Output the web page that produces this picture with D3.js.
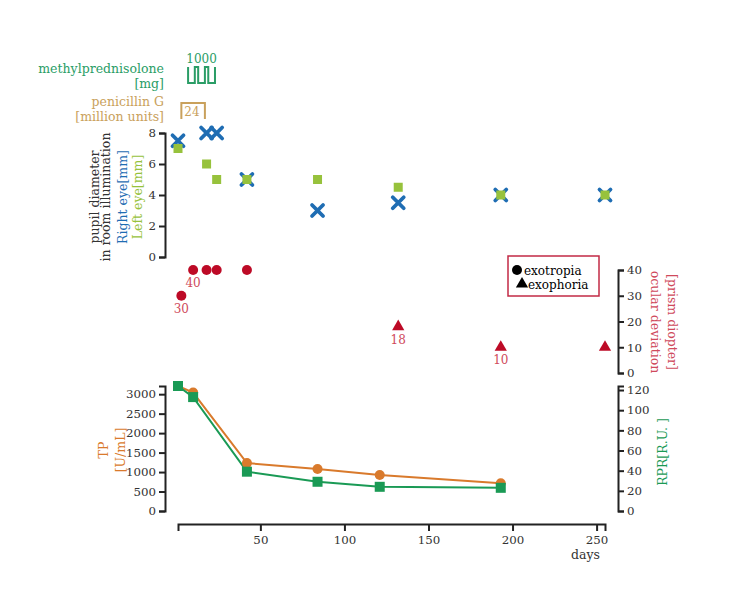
<!DOCTYPE html>
<html>
<head>
<meta charset="utf-8">
<script src="https://cdn.jsdelivr.net/npm/d3@7"></script>
<style>
  body { margin: 0; background: #fff; }
  svg text { font-family: "DejaVu Serif", serif; }
  .axis text { font-size: 11.8px; fill: #333; font-family: "DejaVu Serif", serif; }
  .axis path, .axis line { stroke: #222; stroke-width: 2px; }
</style>
</head>
<body>
<script>
// days axis
const dayTicks = [50, 100, 150, 200, 250];

// pupil diameter [mm]
const pupilDays = [1, 18, 24, 42, 84, 132, 193, 255];
const rightEye = [7.5, 8, 8, 5, 3, 3.5, 4, 4];
const leftEye = [7, 6, 5, 5, 5, 4.5, 4, 4];

// ocular deviation [prism diopter]
const tropiaDays = [3, 10, 18, 24, 42];
const tropiaVals = [30, 40, 40, 40, 40];
const tropiaLabels = ["30", "40", "", "", ""];
const phoriaDays = [132, 193, 255];
const phoriaVals = [18, 10, 10];
const phoriaLabels = ["18", "10", ""];

// serology
const labDays = [1, 10, 42, 84, 121, 193];
const tp = [3210, 3040, 1230, 1080, 925, 710];
const rpr = [124, 113, 39, 29, 24, 23];

// drugs
const mpDays = [7, 7, 11, 11, 13, 13, 17, 17, 19, 19, 23, 23];
const mpDose = [1000, 0, 0, 1000, 1000, 0, 0, 1000, 1000, 0, 0, 1000];
const pcDays = [3, 3, 17, 17];
const pcDose = [0, 24, 24, 0];

const W = 750, H = 594;
const blue = "#1f6db3", lime = "#97c23c", red = "#bd0a26", redTxt = "#cf4a5c";
const orange = "#d97a2c", green = "#1a9a55", mpGreen = "#2a9d66", gold = "#c9a15c";

let svg = d3.select("body").append("svg").attr("width", W).attr("height", H);

let x = d3.scaleLinear().domain([1, 255]).range([178, 605]);

// ---- x axis
svg.append("g").attr("class", "axis")
  .attr("transform", "translate(0,524)")
  .call(d3.axisBottom(x).tickValues(dayTicks).tickSize(7).tickSizeOuter(7).tickPadding(5));
svg.append("text").attr("x", 600).attr("y", 559).attr("text-anchor", "end")
  .style("font-size", "12.5px").style("fill", "#333").text("days");

// ---- drugs
let mpY = d3.scaleLinear().domain([0, 1000]).range([83, 67]);
let pcY = d3.scaleLinear().domain([0, 24]).range([119, 103]);
let drugLine = (yy) => d3.line().x(d => x(d[0])).y(d => yy(d[1]));

svg.append("path").datum(mpDays.map((d, i) => [d, mpDose[i]]))
  .attr("d", drugLine(mpY)).attr("fill", "none").attr("stroke", mpGreen).attr("stroke-width", 2);
svg.append("text").attr("x", x(15)).attr("y", 63).attr("text-anchor", "middle")
  .style("font-size", "12px").style("fill", mpGreen).text(d3.max(mpDose));

svg.append("path").datum(pcDays.map((d, i) => [d, pcDose[i]]))
  .attr("d", drugLine(pcY)).attr("fill", "none").attr("stroke", gold).attr("stroke-width", 2);
svg.append("text").attr("x", x(3) + 3).attr("y", 116)
  .style("font-size", "12px").style("fill", gold).text(d3.max(pcDose));

let drugLabels = [
  ["methylprednisolone", 73, mpGreen], ["[mg]", 88, mpGreen],
  ["penicillin G", 106, gold], ["[million units]", 121, gold]
];
svg.selectAll(".druglab").data(drugLabels).enter().append("text")
  .attr("x", 164).attr("y", d => d[1]).attr("text-anchor", "end")
  .style("font-size", "12.5px").style("fill", d => d[2]).text(d => d[0]);

// ---- pupil panel
let yP = d3.scaleLinear().domain([0, 8]).range([257, 133]);
svg.append("g").attr("class", "axis").attr("transform", "translate(165,0)")
  .call(d3.axisLeft(yP).ticks(4).tickSize(6).tickSizeOuter(6));

let pupilLab = svg.append("text").attr("transform", "translate(0,197) rotate(-90)")
  .attr("text-anchor", "middle").style("font-size", "12.5px");
[["pupil diameter", "#333", 99], ["in room illumination", "#333", 110],
 ["Right eye[mm]", blue, 127], ["Left eye[mm]", lime, 142]].forEach(l => {
  pupilLab.append("tspan").attr("x", 0).attr("y", l[2]).style("fill", l[1]).text(l[0]);
});

svg.selectAll(".right").data(pupilDays).enter().append("path")
  .attr("transform", (d, i) => `translate(${x(d)},${yP(rightEye[i])})`)
  .attr("d", "M-5.5,-5.5L5.5,5.5M-5.5,5.5L5.5,-5.5")
  .attr("stroke", blue).attr("stroke-width", 3.8).attr("stroke-linecap", "round");

svg.selectAll(".left").data(pupilDays).enter().append("rect")
  .attr("x", d => x(d) - 4.5).attr("y", (d, i) => yP(leftEye[i]) - 4.5)
  .attr("width", 9).attr("height", 9).attr("fill", lime);

// ---- ocular deviation panel
let yO = d3.scaleLinear().domain([0, 40]).range([373, 270]);
svg.append("g").attr("class", "axis").attr("transform", "translate(618,0)")
  .call(d3.axisRight(yO).ticks(4).tickSize(6).tickSizeOuter(6));

let ocLab = svg.append("text").attr("transform", "translate(0,322) rotate(90)")
  .attr("text-anchor", "middle").style("font-size", "12.5px").style("fill", redTxt);
ocLab.append("tspan").attr("x", 0).attr("y", -651).text("ocular deviation");
ocLab.append("tspan").attr("x", 0).attr("y", -668).text("[prism diopter]");

svg.selectAll(".tropia").data(tropiaDays).enter().append("circle")
  .attr("cx", d => x(d)).attr("cy", (d, i) => yO(tropiaVals[i])).attr("r", 5).attr("fill", red);
svg.selectAll(".tropiaLab").data(tropiaDays).enter().append("text")
  .attr("x", d => x(d)).attr("y", (d, i) => yO(tropiaVals[i]) + 17)
  .attr("text-anchor", "middle").style("font-size", "12px").style("fill", redTxt)
  .text((d, i) => tropiaLabels[i]);

let tri = d3.symbol().type(d3.symbolTriangle).size(65);
svg.selectAll(".phoria").data(phoriaDays).enter().append("path")
  .attr("transform", (d, i) => `translate(${x(d)},${yO(phoriaVals[i])})`)
  .attr("d", tri).attr("fill", red);
svg.selectAll(".phoriaLab").data(phoriaDays).enter().append("text")
  .attr("x", d => x(d)).attr("y", (d, i) => yO(phoriaVals[i]) + 17)
  .attr("text-anchor", "middle").style("font-size", "12px").style("fill", redTxt)
  .text((d, i) => phoriaLabels[i]);

// legend
let lg = svg.append("g").attr("transform", "translate(508,256)");
lg.append("rect").attr("width", 91).attr("height", 40).attr("fill", "#fff")
  .attr("stroke", "#c22a45").attr("stroke-width", 1.5);
lg.append("circle").attr("cx", 9).attr("cy", 14).attr("r", 5).attr("fill", "#000");
lg.append("text").attr("x", 16).attr("y", 18.5).style("font-size", "12px").text("exotropia");
lg.append("path").attr("transform", "translate(14,28)").attr("d", tri).attr("fill", "#000");
lg.append("text").attr("x", 20).attr("y", 32.5).style("font-size", "12px").text("exophoria");

// ---- serology panel
let yT = d3.scaleLinear().domain([0, d3.max(tp)]).range([511, 386]);
let yR = d3.scaleLinear().domain([0, d3.max(rpr)]).range([511, 386]);

svg.append("g").attr("class", "axis").attr("transform", "translate(165,0)")
  .call(d3.axisLeft(yT).tickValues(d3.range(0, 3001, 500)).tickFormat(d3.format("d"))
    .tickSize(6).tickSizeOuter(6));
svg.append("g").attr("class", "axis").attr("transform", "translate(618,0)")
  .call(d3.axisRight(yR).tickValues(d3.range(0, 121, 20)).tickSize(6).tickSizeOuter(6));

let tpLab = svg.append("text").attr("transform", "translate(0,450) rotate(-90)")
  .attr("text-anchor", "middle").style("font-size", "12.5px").style("fill", orange);
tpLab.append("tspan").attr("x", 0).attr("y", 108).text("TP");
tpLab.append("tspan").attr("x", 0).attr("y", 125).text("[U/mL]");

svg.append("text").attr("transform", "translate(667,452) rotate(-90)")
  .attr("text-anchor", "middle").style("font-size", "12.5px").style("fill", green).text("RPR[R.U. ]");

let tpLine = d3.line().x((d, i) => x(labDays[i])).y(d => yT(d));
let rprLine = d3.line().x((d, i) => x(labDays[i])).y(d => yR(d));

svg.append("path").datum(tp).attr("d", tpLine).attr("fill", "none")
  .attr("stroke", orange).attr("stroke-width", 2);
svg.append("path").datum(rpr).attr("d", rprLine).attr("fill", "none")
  .attr("stroke", green).attr("stroke-width", 2);

svg.selectAll(".tp").data(tp).enter().append("circle")
  .attr("cx", (d, i) => x(labDays[i])).attr("cy", d => yT(d)).attr("r", 5).attr("fill", orange);
svg.selectAll(".rpr").data(rpr).enter().append("rect")
  .attr("x", (d, i) => x(labDays[i]) - 5).attr("y", d => yR(d) - 5)
  .attr("width", 10).attr("height", 10).attr("fill", green);
</script>
</body>
</html>
